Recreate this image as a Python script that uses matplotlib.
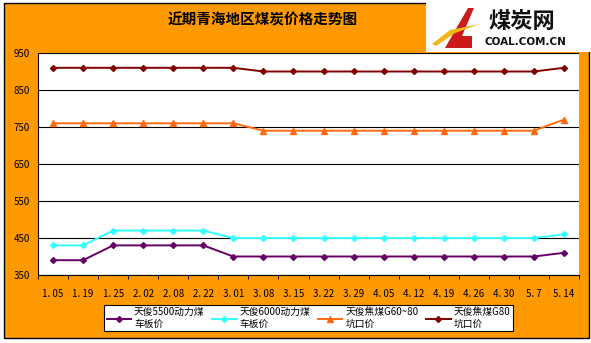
import numpy as np
import matplotlib
matplotlib.use('Agg')
from matplotlib import pyplot as plt
from matplotlib.patches import Rectangle, Polygon

plt.rcParams['font.family'] = ['Noto Sans CJK SC', 'DejaVu Sans']

# 日期和四个系列
dates = ['1. 05', '1. 19', '1. 25', '2. 02', '2. 08', '2. 22', '3. 01', '3. 08', '3. 15',
         '3. 22', '3. 29', '4. 05', '4. 12', '4. 19', '4. 26', '4. 30', '5. 7', '5. 14']
coal5500 = [390, 390, 430, 430, 430, 430, 400, 400, 400, 400, 400, 400, 400, 400, 400, 400, 400, 410]
coal6000 = [430, 430, 470, 470, 470, 470, 450, 450, 450, 450, 450, 450, 450, 450, 450, 450, 450, 460]
coking6080 = [760, 760, 760, 760, 760, 760, 760, 740, 740, 740, 740, 740, 740, 740, 740, 740, 740, 770]
coking80 = [910, 910, 910, 910, 910, 910, 910, 900, 900, 900, 900, 900, 900, 900, 900, 900, 900, 910]
names = ['天俊5500动力煤\n车板价', '天俊6000动力煤\n车板价', '天俊焦煤G60~80\n坑口价', '天俊焦煤G80\n坑口价']
yticks = [350, 450, 550, 650, 750, 850, 950]

fig = plt.figure(figsize=(5.91, 3.43), dpi=100)
fig.patch.set_facecolor('white')

# 橙色背景
fig.patches.append(Rectangle((4/591, 1-338/343), 585/591, 335/343, transform=fig.transFigure,
                             facecolor='#FF9900', edgecolor='black', linewidth=1, zorder=-3))
# 右上角 logo 区
fig.patches.append(Rectangle((426/591, 1-52/343), 165/591, 52/343, transform=fig.transFigure,
                             facecolor='white', edgecolor='none', zorder=-2))
fig.patches.append(Polygon([(445/591, 1-48/343), (468/591, 1-8/343), (474/591, 1-8/343),
                            (462/591, 1-36/343), (472/591, 1-36/343), (472/591, 1-48/343)],
                           closed=True, transform=fig.transFigure, facecolor='#CC1A1A', zorder=-1))
fig.patches.append(Polygon([(432/591, 1-44/343), (450/591, 1-30/343), (480/591, 1-24/343),
                            (455/591, 1-33/343), (436/591, 1-46/343)],
                           closed=True, transform=fig.transFigure, facecolor='#F2B51A', zorder=-1))
fig.text(522/591, 1-22/343, '煤炭网', fontsize=16, fontweight='bold', color='#111111',
         ha='center', va='center')
fig.text(525/591, 1-42/343, 'COAL.COM.CN', fontsize=7.5, fontweight='bold', color='#111111',
         family='DejaVu Sans', ha='center', va='center')

fig.text(263/591, 1-20/343, '近期青海地区煤炭价格走势图', fontsize=10.5, fontweight='bold',
         ha='center', va='center')

ax = fig.add_axes([38/591, 1-275/343, 541/591, 222/343])
ax.set_zorder(2)
ax.set_facecolor('white')
x = np.arange(len(dates))
ax.plot(x, coal5500, color='#660066', marker='D', markersize=3, linewidth=1.4, label=names[0])
ax.plot(x, coal6000, color='#33FFFF', marker='D', markersize=3, linewidth=1.4, label=names[1])
ax.plot(x, coking6080, color='#FF6A10', marker='^', markersize=4, linewidth=1.4, label=names[2])
ax.plot(x, coking80, color='#800000', marker='D', markersize=3, linewidth=1.4, label=names[3])

ax.set_ylim(350, 950)
ax.set_yticks(yticks)
ax.set_xlim(-0.5, len(dates) - 0.5)
ax.set_xticks(x)
ax.set_xticklabels(dates)
ax.set_xticks(np.arange(len(dates) + 1) - 0.5, minor=True)
ax.tick_params(axis='x', which='major', length=0, labelsize=7, pad=10)
ax.tick_params(axis='x', which='minor', length=3, direction='out')
ax.tick_params(axis='y', length=0, labelsize=7, pad=6)
ax.yaxis.grid(True, color='black', linewidth=0.8)
ax.set_axisbelow(True)
for s in ['top', 'right']:
    ax.spines[s].set_visible(False)

leg = fig.legend(loc='lower center', bbox_to_anchor=(0.522, 0.02), ncol=4, fontsize=7,
                 frameon=True, fancybox=False, edgecolor='black', framealpha=1,
                 handlelength=2.5, borderpad=0.25, columnspacing=0.8, handletextpad=0.3,
                 labelspacing=0.1)
leg.get_frame().set_linewidth(0.8)
leg.set_zorder(3)

plt.savefig('out.png', dpi=100)
